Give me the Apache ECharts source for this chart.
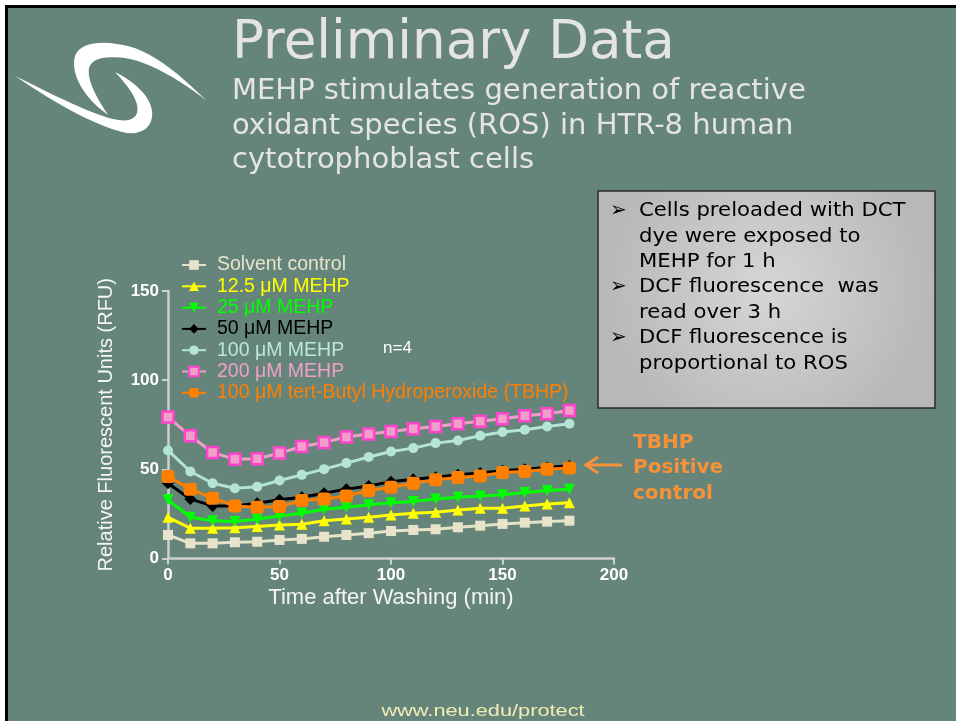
<!DOCTYPE html>
<html>
<head>
<meta charset="utf-8">
<script src="https://cdn.jsdelivr.net/npm/echarts@6/dist/echarts.min.js"></script>
<style>
html,body{margin:0;padding:0;background:#fff;}
#chart{width:956px;height:721px;}
</style>
</head>
<body>
<div id="chart"></div>
<script>
// ---- data ----
var times = [0,10,20,30,40,50,60,70,80,90,100,110,120,130,140,150,160,170,180];
var seriesNames = ['Solvent control','12.5 \u03bcM MEHP','25 \u03bcM MEHP','50 \u03bcM MEHP','100 \u03bcM MEHP','200 \u03bcM MEHP','100 \u03bcM tert-Butyl Hydroperoxide (TBHP)'];
var solvent = [13.2,8.5,8.5,9.1,9.4,10.4,11.0,12.2,13.2,14.2,15.4,16.0,16.4,17.5,18.4,19.4,20.1,20.7,21.2];
var mehp12 = [23.1,17.0,17.0,17.3,17.9,18.8,19.2,21.2,22.2,23.1,24.4,25.4,26.0,27.2,28.2,28.2,29.5,30.6,31.3];
var mehp25 = [32.9,23.1,21.2,20.7,22.0,23.9,25.4,27.6,28.8,30.1,31.3,31.9,33.3,34.4,35.1,35.7,37.0,38.1,38.9];
var mehp50 = [42.2,33.3,29.5,29.5,31.0,32.9,34.4,36.6,38.9,40.7,43.1,44.5,45.6,46.9,47.9,49.2,50.1,51.0,52.0];
var mehp100 = [60.6,48.8,42.2,39.4,40.3,43.7,46.9,50.1,53.5,56.9,60.0,61.9,64.7,66.2,68.8,70.9,72.2,74.0,75.6];
var mehp200 = [79.3,68.8,59.4,55.7,55.9,59.1,62.8,65.1,68.1,69.8,71.2,72.8,74.0,75.6,76.9,78.4,80.1,81.2,83.0];
var tbhp = [46.0,38.9,33.8,29.5,28.8,29.1,32.5,33.3,35.1,38.1,40.0,42.2,44.1,45.4,46.3,48.2,48.8,50.1,50.7];
var xTicks = [0,50,100,150,200];
var yTicks = [0,50,100,150];
var bullets = ['Cells preloaded with DCT','dye were exposed to','MEHP for 1 h','DCF fluorescence  was','read over 3 h','DCF fluorescence is','proportional to ROS'];
var bulletMarks = [true,false,false,true,false,true,false];

function pairs(v){ return times.map(function(t,i){ return [t, v[i]]; }); }

var values = [solvent, mehp12, mehp25, mehp50, mehp100, mehp200, tbhp];
var styles = [
  {color:'#e8e4cc', line:'#e6e2c8', symbol:'rect', size:10},
  {color:'#ffff00', line:'#ffff00', symbol:'triangle', size:11},
  {color:'#00ff00', line:'#00ff00', symbol:'triangle', size:11, rotate:180},
  {color:'#000000', line:'#000000', symbol:'diamond', size:12},
  {color:'#b4e4d4', line:'#b4e4d4', symbol:'circle', size:10},
  {color:'#f0a0c8', line:'#f0a0c8', symbol:'rect', size:11, border:'#ff44cc', bw:2.5},
  {color:'#ff7f00', line:'#ff7f00', symbol:'roundRect', size:13}
];
var textColors = ['#e8e4cc','#ffff00','#00ff00','#000000','#b8e8d8','#f0a0c8','#ff7f00'];

var series = values.map(function(v,i){
  var s = styles[i];
  return {
    name: seriesNames[i], type:'line', data: pairs(v),
    symbol: s.symbol, symbolSize: s.size, symbolRotate: s.rotate || 0,
    showAllSymbol: true, animation:false,
    lineStyle:{color:s.line, width:3},
    itemStyle:{color:s.color, borderColor: s.border || s.color, borderWidth: s.bw || 0, opacity:1},
    emphasis:{disabled:true}
  };
});

// sample a chain of cubic bezier segments into polygon points (logo decoration)
function bez(start, segs){
  var pts = [start.slice()], p0 = start;
  segs.forEach(function(s){
    for (var k=1;k<=12;k++){
      var t=k/12, u=1-t;
      pts.push([
        u*u*u*p0[0]+3*u*u*t*s[0]+3*u*t*t*s[2]+t*t*t*s[4],
        u*u*u*p0[1]+3*u*u*t*s[1]+3*u*t*t*s[3]+t*t*t*s[5]
      ]);
    }
    p0=[s[4],s[5]];
  });
  return pts;
}
var logoUpper = bez([207,101],[[185,80,158,54,128,46],[102,40,80,42,75,56],[70,74,84,98,108,115],[96,97,87,80,89,68],[92,58,104,56,125,58],[150,62,180,80,207,101]]);
var logoLower = bez([15,76],[[45,96,85,122,122,132],[142,137,154,126,152,111],[150,96,135,82,115,72],[128,86,140,101,137,113],[134,123,118,122,100,115],[70,104,40,88,15,76]]);

var slideColor = '#65857b';
var graphics = [
  {type:'rect', shape:{x:5,y:5,width:951,height:716}, style:{fill:'#000'}, z:-10},
  {type:'rect', shape:{x:8,y:8,width:948,height:713}, style:{fill:slideColor}, z:-9},
  {type:'polygon', shape:{points:logoUpper}, style:{fill:'#fff'}},
  {type:'polygon', shape:{points:logoLower}, style:{fill:'#fff'}},
  {type:'text', x:232, y:44, style:{text:'Preliminary Data', font:'53px "DejaVu Sans"', fill:'#e4e4e4', verticalAlign:'middle'}},
  {type:'text', x:232, y:91, style:{text:'MEHP stimulates generation of reactive', font:'29px "DejaVu Sans"', fill:'#e4e4e4', verticalAlign:'middle'}},
  {type:'text', x:232, y:126, style:{text:'oxidant species (ROS) in HTR-8 human', font:'29px "DejaVu Sans"', fill:'#e4e4e4', verticalAlign:'middle'}},
  {type:'text', x:232, y:160, style:{text:'cytotrophoblast cells', font:'29px "DejaVu Sans"', fill:'#e4e4e4', verticalAlign:'middle'}},
  {type:'rect', shape:{x:598,y:191,width:337,height:217}, style:{
    fill:new echarts.graphic.RadialGradient(0.5,0.45,0.75,[{offset:0,color:'#d6d6d6'},{offset:1,color:'#b8b8b8'}]),
    stroke:'#2a2a2a', lineWidth:1.5}},
  {type:'text', x:633, y:443, style:{text:'TBHP', font:'bold 20px "DejaVu Sans"', fill:'#f7923a', verticalAlign:'middle'}},
  {type:'text', x:633, y:468, style:{text:'Positive', font:'bold 20px "DejaVu Sans"', fill:'#f7923a', verticalAlign:'middle'}},
  {type:'text', x:633, y:494, style:{text:'control', font:'bold 20px "DejaVu Sans"', fill:'#f7923a', verticalAlign:'middle'}},
  {type:'polyline', shape:{points:[[622,465],[586,465]]}, style:{stroke:'#f7923a', lineWidth:3}},
  {type:'polyline', shape:{points:[[598,457],[586,465],[598,473]]}, style:{stroke:'#f7923a', lineWidth:3, fill:null}},
  {type:'text', x:383, y:348, style:{text:'n=4', font:'17px "Liberation Sans"', fill:'#ffffff', verticalAlign:'middle'}},
  {type:'text', x:483, y:711, scaleX:1.28, originX:0, originY:0, style:{text:'www.neu.edu/protect', font:'17px "Liberation Sans"', fill:'#f2ecb4', align:'center', verticalAlign:'middle'}}
];
bullets.forEach(function(t,i){
  var y = 211 + i*25.4;
  if (bulletMarks[i]) graphics.push({type:'text', x:610, y:y, style:{text:'\u27a2', font:'20px "DejaVu Sans"', fill:'#000', verticalAlign:'middle'}});
  graphics.push({type:'text', x:639, y:y, scaleX:1.06, originX:0, originY:0, style:{text:t, font:'20px "DejaVu Sans"', fill:'#000', verticalAlign:'middle'}});
});

var chart = echarts.init(document.getElementById('chart'), null, {renderer:'canvas'});
chart.setOption({
  backgroundColor:'#ffffff',
  animation:false,
  graphic: graphics,
  legend:{
    orient:'vertical', left:176, top:250,
    itemWidth:24, itemHeight:12, itemGap:1.3,
    textStyle:{fontFamily:'Liberation Sans', fontSize:19.5, lineHeight:18.5, padding:[0,0,0,6]},
    data: seriesNames.map(function(n,i){ return {name:n, textStyle:{color:textColors[i]}}; }),
    selectedMode:false
  },
  grid:{left:168, top:291, width:446, height:267.5, containLabel:false},
  xAxis:{
    type:'value', min:0, max:200, interval:50,
    axisLine:{show:true, onZero:false, lineStyle:{color:'#d0d0d0', width:2.5}},
    axisTick:{show:true, length:6, lineStyle:{color:'#d0d0d0', width:2}},
    splitLine:{show:false},
    axisLabel:{color:'#ffffff', fontWeight:'bold', fontFamily:'Liberation Sans', fontSize:17, margin:8,
      formatter:function(v){ return xTicks.indexOf(v) >= 0 ? String(v) : ''; }},
    name:'Time after Washing (min)', nameLocation:'middle', nameGap:28,
    nameTextStyle:{color:'#f4f4f4', fontFamily:'Liberation Sans', fontSize:22}
  },
  yAxis:{
    type:'value', min:0, max:150, interval:50,
    axisLine:{show:true, lineStyle:{color:'#d0d0d0', width:2.5}},
    axisTick:{show:true, length:6, lineStyle:{color:'#d0d0d0', width:2}},
    splitLine:{show:false},
    axisLabel:{color:'#ffffff', fontWeight:'bold', fontFamily:'Liberation Sans', fontSize:17, margin:9,
      formatter:function(v){ return yTicks.indexOf(v) >= 0 ? String(v) : ''; }},
    name:'Relative Fluorescent Units (RFU)', nameLocation:'middle', nameGap:52,
    nameTextStyle:{color:'#f4f4f4', fontFamily:'Liberation Sans', fontSize:20}
  },
  series: series
});
</script>
</body>
</html>
